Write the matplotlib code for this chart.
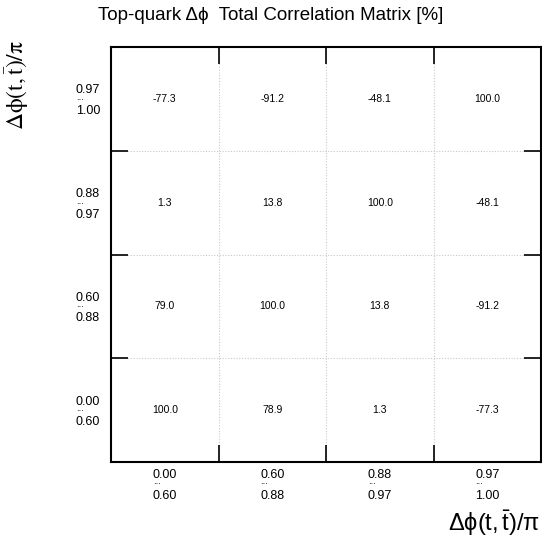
import matplotlib
matplotlib.use("Agg")
import matplotlib.pyplot as plt
import numpy as np

plt.rcParams['font.family'] = ['Liberation Sans', 'DejaVu Sans']
plt.rcParams['mathtext.fontset'] = 'custom'
plt.rcParams['mathtext.rm'] = 'Liberation Sans'
plt.rcParams['mathtext.it'] = 'Liberation Sans:italic'

title = "Top-quark \u0394\u03d5  Total Correlation Matrix [%]"
bin_low = ["0.00", "0.60", "0.88", "0.97"]
bin_high = ["0.60", "0.88", "0.97", "1.00"]
# rows: y bins from bottom (0) to top (3); columns: x bins
corr = [
    [100.0, 78.9, 1.3, -77.3],
    [79.0, 100.0, 13.8, -91.2],
    [1.3, 13.8, 100.0, -48.1],
    [-77.3, -91.2, -48.1, 100.0],
]
axis_label = r'$\Delta\mathrm{\phi}(\mathrm{t},\bar{\mathrm{t}})/\mathrm{\pi}$'

fig = plt.figure(figsize=(5.42, 5.46), dpi=100)
ax = fig.add_axes([111/542, 1-462/546, 430/542, 415/546])
n = len(bin_low)
ax.set_xlim(0, n)
ax.set_ylim(0, n)

for i in range(n):
    for j in range(n):
        ax.text(j + 0.5, i + 0.5, f"{corr[i][j]:.1f}", ha='center', va='center', fontsize=7.5)

# grid lines
for k in range(1, n):
    ax.axvline(k, color='#c8c8c8', lw=0.8, ls=(0, (1, 1.5)), zorder=0)
    ax.axhline(k, color='#c8c8c8', lw=0.8, ls=(0, (1, 1.5)), zorder=0)

ax.set_xticks(range(1, n))
ax.set_yticks(range(1, n))
ax.set_xticklabels([])
ax.set_yticklabels([])
ax.tick_params(direction='in', length=12, width=1.2, top=True, right=True, color='black')
for s in ax.spines.values():
    s.set_linewidth(1.5)

# tick labels (two lines with small dots)
kw = dict(xycoords='data', textcoords='offset pixels', ha='left',
          annotation_clip=False)
for k in range(n):
    xc = k + 0.5
    ax.annotate(bin_low[k], xy=(xc, 0), xytext=(-12, -13), fontsize=9, va='center', **kw)
    ax.annotate("...", xy=(xc, 0), xytext=(-12, -22.5), fontsize=7, va='baseline', **kw)
    ax.annotate(bin_high[k], xy=(xc, 0), xytext=(-12, -34), fontsize=9, va='center', **kw)
    ax.annotate(bin_low[k], xy=(0, xc), xytext=(-35, 8.5), fontsize=9, va='center', **kw)
    ax.annotate("...", xy=(0, xc), xytext=(-35, -1), fontsize=7, va='baseline', **kw)
    ax.annotate(bin_high[k], xy=(0, xc), xytext=(-35, -12), fontsize=9, va='center', **kw)

fig.text(271/542, 1-16/546, title, ha='center', va='center', fontsize=13.5)
fig.text(540/542, 1-523/546, axis_label, ha='right', va='center', fontsize=17)
fig.text(17/542, 1-40/546, axis_label, ha='center', va='top', fontsize=17, rotation=90,
         math_fontfamily='stix')

fig.savefig("out.png", dpi=100)
